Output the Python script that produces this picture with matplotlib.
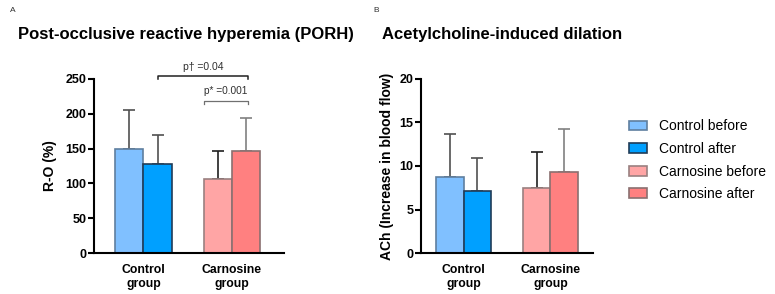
import matplotlib.pyplot as plt
import numpy as np

plt.rcParams['font.family'] = ['Liberation Sans', 'DejaVu Sans']

grupos = ['Control\ngroup', 'Carnosine\ngroup']
series = ['Control before', 'Control after', 'Carnosine before', 'Carnosine after']

porh_media = [150, 128, 107, 147]
porh_sd = [56, 41, 40, 47]
ach_media = [8.7, 7.1, 7.5, 9.3]
ach_sd = [5.0, 3.8, 4.1, 5.0]

colores = ['#80C0FF', '#00A0FF', '#FFA5A5', '#FF8080']
bordes = ['#5f7f9f', '#203c58', '#9a8080', '#8a7070']
err_col = ['#505050', '#505050', '#202020', '#808080']

fig = plt.figure(figsize=(7.75, 2.94), dpi=100)
ax1 = fig.add_axes([94/775, 1-253/294, 190/775, 174/294])
ax2 = fig.add_axes([421/775, 1-253/294, 172/775, 174/294])

ancho = 0.32
desp = [-0.5, 0.5, -0.5, 0.5]
grp = [0, 0, 1, 1]


def dibujar(ax, medias, sds, xlim):
    for i in range(4):
        x = grp[i] + desp[i] * ancho
        ax.bar(x, medias[i], ancho, color=colores[i], edgecolor=bordes[i],
               linewidth=1.2, label=series[i], zorder=2)
        ax.errorbar(x, medias[i], yerr=[[0], [sds[i]]], fmt='none',
                    ecolor=err_col[i], elinewidth=1.2, capsize=4.5, capthick=1.2, zorder=1)
    ax.set_xlim(*xlim)
    ax.set_xticks([0, 1])
    ax.set_xticklabels(grupos, fontsize=8.8, fontweight='bold', linespacing=1.25)
    ax.tick_params(axis='x', length=0, pad=8)
    ax.tick_params(axis='y', width=1.5, length=4, labelsize=9, pad=1.5)
    for lab in ax.get_yticklabels():
        lab.set_fontweight('bold')
    ax.spines['top'].set_visible(False)
    ax.spines['right'].set_visible(False)
    ax.spines['left'].set_linewidth(1.5)
    ax.spines['bottom'].set_linewidth(1.5)


dibujar(ax1, porh_media, porh_sd, (-0.56, 1.59))
ax1.set_ylim(0, 250)
ax1.set_yticks(np.arange(0, 251, 50))
ax1.set_ylabel('R-O (%)', fontsize=10, fontweight='bold', labelpad=6)
ax1.set_title('Post-occlusive reactive hyperemia (PORH)', fontsize=12,
              fontweight='bold', x=0.484, y=1.18)

# corchetes de significancia
ax1.plot([0.164, 0.164, 1.18, 1.18], [250, 254, 254, 250], color='#202020', lw=1.1, clip_on=False)
ax1.text(0.672, 267, 'p\u2020 =0.04', ha='center', va='center', fontsize=7.5, color='#303030')
ax1.plot([0.684, 0.684, 1.18, 1.18], [214, 218, 218, 214], color='#707070', lw=0.9, clip_on=False)
ax1.text(0.93, 233, 'p* =0.001', ha='center', va='center', fontsize=7.3, color='#303030')

dibujar(ax2, ach_media, ach_sd, (-0.49, 1.49))
ax2.set_ylim(0, 20)
ax2.set_yticks(np.arange(0, 21, 5))
ax2.set_ylabel('ACh (Increase in blood flow)', fontsize=10, fontweight='bold', labelpad=4)
ax2.set_title('Acetylcholine-induced dilation', fontsize=12,
              fontweight='bold', x=0.47, y=1.18)

ax2.legend(loc='upper left', bbox_to_anchor=(1.135, 0.84), frameon=False,
           fontsize=10, handlelength=1.3, handleheight=0.7, handletextpad=0.9,
           labelspacing=0.62)

fig.text(10/775, 1-10/294, 'A', fontsize=6, va='center', ha='left', color='#303030')
fig.text(373/775, 1-10/294, 'B', fontsize=6, va='center', ha='left', color='#303030')

fig.savefig('out.png', dpi=100)
